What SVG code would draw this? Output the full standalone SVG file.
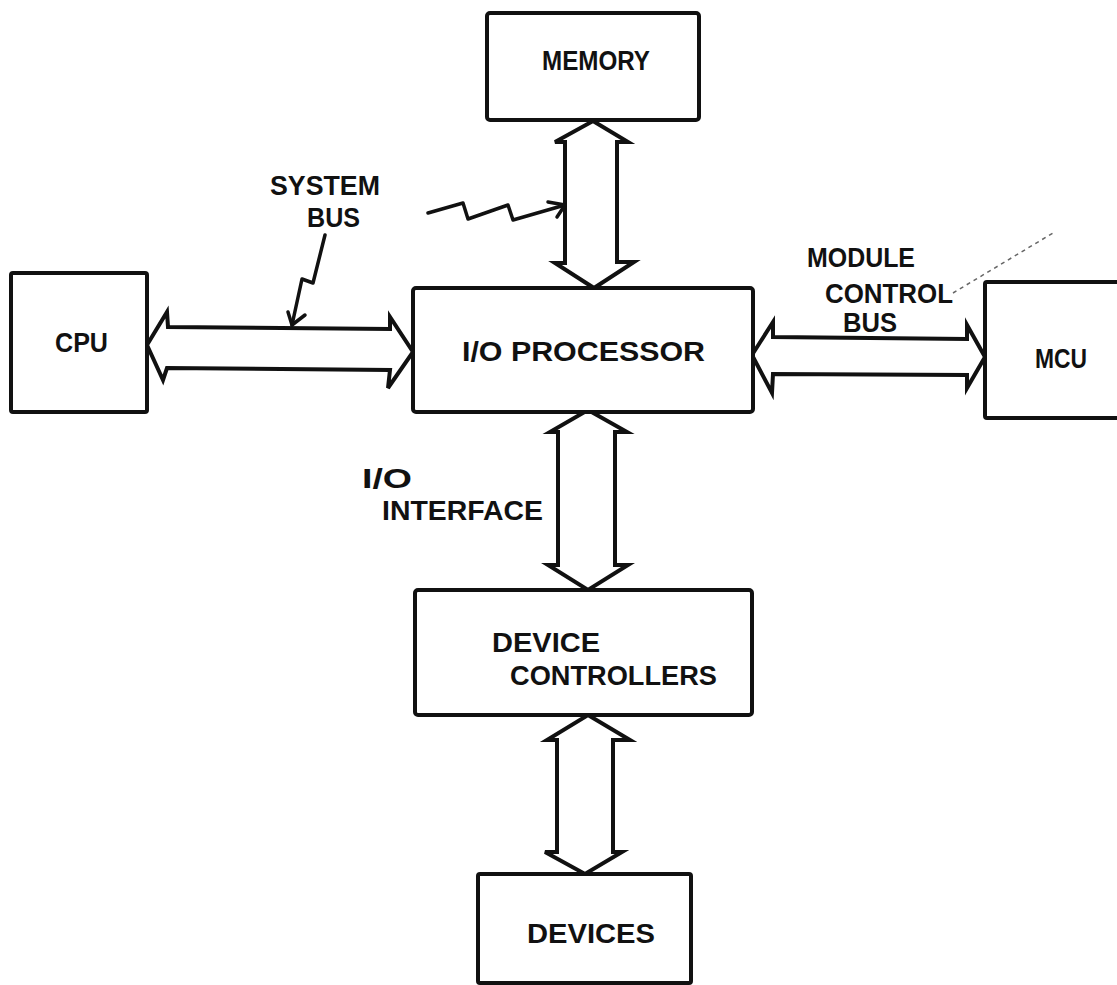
<svg xmlns="http://www.w3.org/2000/svg" width="1117" height="985" viewBox="0 0 1117 985">
<style>
.box{fill:#ffffff;stroke:#111;stroke-width:4;stroke-linejoin:round}
.bus{fill:#ffffff;stroke:#111;stroke-width:4;stroke-linejoin:miter}
.ptr{fill:none;stroke:#111;stroke-width:3.5;stroke-linejoin:round;stroke-linecap:round}
.t{font-family:"Liberation Sans",Arial,sans-serif;font-weight:bold;font-size:27px;fill:#111}
.faint{fill:none;stroke:#666;stroke-width:1.5;stroke-dasharray:4 4}
</style>
<rect width="1117" height="985" fill="#ffffff"/>
<g id="connectors">
<polygon class="bus" points="147,345 167,312 168,327 390,329 390,317 413,352 388,388 390,370 167,368 163,380"/>
<polygon class="bus" points="752,355 773,322 773,337 967,339 967,325 985,357 967,388 967,375 773,374 772,393"/>
<polygon class="bus" points="593,121 628,142 617,142 617,262 634,262 594,288 555,263 565,263 565,142 555,142"/>
<polygon class="bus" points="588,410 627,432 615,432 615,565 628,565 588,590 548,565 558,565 558,432 550,432"/>
<polygon class="bus" points="588,715 630,740 613,740 613,852 622,852 585,874 545,852 557,852 557,740 547,740"/>
<polyline class="ptr" points="325,235 313,283 302,279 292,325"/>
<polyline class="ptr" points="288,312 292,325 305,315"/>
<polyline class="ptr" points="428,213 463,203 468,219 508,205 513,220 565,205"/>
<polyline class="ptr" points="548,202 565,205 557,217"/>
<line class="faint" x1="953" y1="293" x2="1053" y2="233"/>
</g>
<g id="memory">
<rect class="box" x="487" y="13" width="212" height="107" rx="3"/>
<text class="t" x="542" y="70" textLength="108" lengthAdjust="spacingAndGlyphs">MEMORY</text>
</g>
<g id="cpu">
<rect class="box" x="11" y="273" width="136" height="139" rx="2"/>
<text class="t" x="55" y="352" textLength="53" lengthAdjust="spacingAndGlyphs">CPU</text>
</g>
<g id="io-processor">
<rect class="box" x="413" y="288" width="340" height="124" rx="3"/>
<text class="t" x="462" y="361" textLength="243" lengthAdjust="spacingAndGlyphs">I/O PROCESSOR</text>
</g>
<g id="mcu">
<rect class="box" x="985" y="282" width="140" height="136" rx="2"/>
<text class="t" x="1035" y="368" textLength="52" lengthAdjust="spacingAndGlyphs">MCU</text>
</g>
<g id="device-controllers">
<rect class="box" x="415" y="590" width="337" height="125" rx="3"/>
<text class="t" x="492" y="652" textLength="108" lengthAdjust="spacingAndGlyphs">DEVICE</text>
<text class="t" x="510" y="685" textLength="207" lengthAdjust="spacingAndGlyphs">CONTROLLERS</text>
</g>
<g id="devices">
<rect class="box" x="478" y="874" width="213" height="109" rx="2"/>
<text class="t" x="527" y="943" textLength="128" lengthAdjust="spacingAndGlyphs">DEVICES</text>
</g>
<g id="labels">
<text class="t" x="270" y="195" textLength="110" lengthAdjust="spacingAndGlyphs">SYSTEM</text>
<text class="t" x="307" y="227" textLength="53" lengthAdjust="spacingAndGlyphs">BUS</text>
<text class="t" x="807" y="267" textLength="108" lengthAdjust="spacingAndGlyphs">MODULE</text>
<text class="t" x="825" y="303" textLength="128" lengthAdjust="spacingAndGlyphs">CONTROL</text>
<text class="t" x="843" y="332" textLength="54" lengthAdjust="spacingAndGlyphs">BUS</text>
<text class="t" x="362" y="488" textLength="50" lengthAdjust="spacingAndGlyphs">I/O</text>
<text class="t" x="382" y="520" textLength="161" lengthAdjust="spacingAndGlyphs">INTERFACE</text>
</g>
</svg>
